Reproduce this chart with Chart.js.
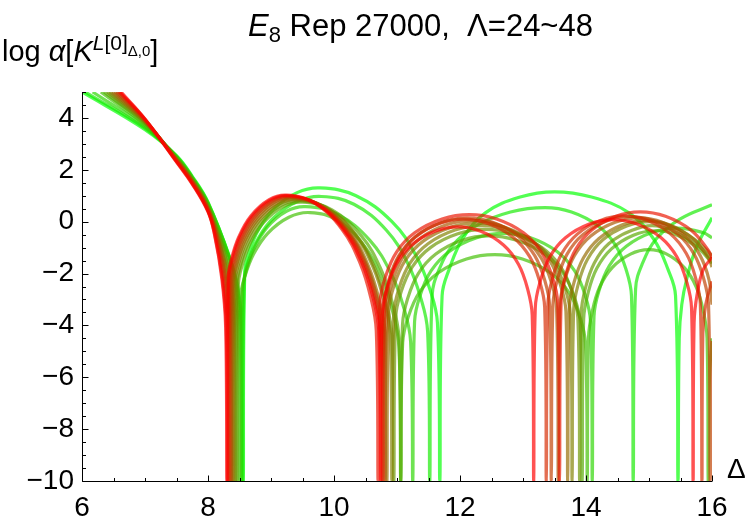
<!DOCTYPE html>
<html><head><meta charset="utf-8">
<script src="https://cdn.jsdelivr.net/npm/chart.js@4.4.1/dist/chart.umd.min.js"></script>
<style>
body{margin:0;background:#fff;}
#wrap{position:relative;width:750px;height:525px;font-family:'Liberation Sans',Arial,sans-serif;color:#000;background:#fff;}
canvas{position:absolute;left:0;top:0;}
.lbl{position:absolute;white-space:nowrap;line-height:1;}
</style></head><body>
<div id="wrap">
<canvas id="chart" width="750" height="525"></canvas>
<div class="lbl" id="title" style="left:248px;top:10px;font-size:31px;"><i>E</i><span style="font-size:22px;position:relative;top:6px;">8</span> Rep 27000,&nbsp; Λ=24~48</div>
<div class="lbl" id="ylab" style="left:2px;top:37px;font-size:29px;">log <i>α</i>[<i>K</i><span style="font-size:21px;position:relative;top:-11px;"><i>L</i>[0]<span style="font-size:15px;position:relative;top:6px;">Δ,0</span></span>]</div>
<div class="lbl" id="xlab" style="left:727px;top:455px;font-size:28px;">Δ</div>
</div>
<script>
// Λ values of the curves (green -> red)
const lambdaValues = [24,26,28,30,32,34,36,38,40,42,44,46,48];
const xTickValues = [6,8,10,12,14,16];
const yTickValues = [-10,-8,-6,-4,-2,0,2,4];

// Each curve: [Δ, log α] pairs (clipped to -10 … 5)
const curveL24 = [[6.00,5],[7,3.55],[7.5,2.55],[7.75,1.75],[8.0,0.75],[8.36,-1.5],[8.48,-2.6],[8.54,-4.05],[8.56,-10],
[8.584,-1.9],[8.658,-1.13],[8.804,-0.3],[9.048,0.5],[9.414,1.12],[9.78,1.30],[10.35,1.0],[10.92,0.0],[11.30,-1.3],[11.528,-2.65],[11.642,-3.9],[11.68,-10],
[11.716,-2.85],[11.826,-1.85],[12.044,-0.65],[12.408,0.35],[12.954,0.95],[13.50,1.15],[14.088,0.95],[14.676,0.35],[15.068,-0.65],[15.303,-1.85],[15.421,-2.85],[15.46,-10],
[15.48,-4.5],[15.52,-3.2],[15.6,-2.2],[15.75,-1.0],[16,0.15]];
const curveL26 = [[6.05,5],[7,3.60],[7.5,2.53],[7.75,1.72],[8.0,0.73],[8.35,-1.42],[8.47,-2.57],[8.53,-4.05],[8.55,-10],
[8.575,-2.23],[8.65,-1.46],[8.80,-0.63],[9.05,0.17],[9.425,0.79],[9.80,0.97],[10.316,0.67],[10.832,-0.33],[11.176,-1.63],[11.382,-2.98],[11.486,-4.23],[11.52,-10],
[11.557,-2.86],[11.666,-1.86],[11.886,-0.91],[12.252,-0.16],[12.801,0.37],[13.35,0.54],[13.77,0.37],[14.19,-0.16],[14.47,-0.91],[14.638,-1.86],[14.722,-2.86],[14.75,-10],
[14.787,-2.6],[14.898,-1.6],[15.12,-0.65],[15.49,0.1],[16,0.65]];
const curveL28 = [[6.17,5],[7,3.66],[7.5,2.50],[7.75,1.70],[8.0,0.70],[8.33,-1.33],[8.45,-2.53],[8.51,-4.05],[8.53,-10],
[8.55,-2.62],[8.612,-1.85],[8.734,-1.02],[8.938,-0.22],[9.244,0.40],[9.55,0.58],[10.06,0.28],[10.57,-0.72],[10.91,-2.02],[11.114,-3.37],[11.216,-4.62],[11.25,-10],
[11.279,-3.85],[11.366,-2.85],[11.54,-1.9],[11.83,-1.15],[12.265,-0.62],[12.70,-0.45],[13.12,-0.62],[13.54,-1.15],[13.82,-1.9],[13.988,-2.85],[14.072,-3.85],[14.10,-10],
[14.127,-3.65],[14.208,-2.65],[14.37,-1.7],[14.64,-0.95],[15.045,-0.42],[15.45,-0.25],[15.855,-0.42],[16,-0.62]];
const curveL30 = [[6.30,5],[7,3.72],[7.5,2.48],[7.75,1.67],[8.0,0.66],[8.30,-1.24],[8.42,-2.5],[8.48,-4.05],[8.50,-10],
[8.522,-2.85],[8.59,-2.08],[8.724,-1.25],[8.948,-0.45],[9.284,0.17],[9.62,0.35],[10.052,0.05],[10.484,-0.95],[10.772,-2.25],[10.945,-3.6],[11.031,-4.85],[11.06,-10],
[11.09,-4.67],[11.179,-3.67],[11.358,-2.72],[11.656,-1.97],[12.103,-1.44],[12.55,-1.27],[12.991,-1.44],[13.432,-1.97],[13.726,-2.72],[13.902,-3.67],[13.991,-4.67],[14.02,-10],
[14.04,-4.48],[14.098,-3.48],[14.216,-2.53],[14.412,-1.78],[14.706,-1.25],[15.0,-1.08],[15.282,-1.25],[15.564,-1.78],[15.752,-2.53],[15.865,-3.48],[15.921,-4.48],[15.94,-10],
[15.96,-6],[16,-4.5]];
const curveL32 = [[6.35,5],[7,3.78],[7.5,2.46],[7.75,1.65],[8.0,0.62],[8.26,-1.15],[8.38,-2.47],[8.44,-4.05],[8.46,-10],
[8.481,-2.45],[8.543,-1.68],[8.668,-0.85],[8.876,-0.05],[9.188,0.57],[9.50,0.75],[9.968,0.45],[10.436,-0.55],[10.748,-1.85],[10.935,-3.2],[11.029,-4.45],[11.06,-10],
[11.088,-3.95],[11.171,-2.95],[11.338,-2.0],[11.616,-1.25],[12.033,-0.72],[12.45,-0.55],[12.897,-0.72],[13.344,-1.25],[13.642,-2.0],[13.821,-2.95],[13.91,-3.95],[13.94,-10],
[13.963,-3.75],[14.033,-2.75],[14.172,-1.8],[14.404,-1.05],[14.752,-0.52],[15.1,-0.35],[15.448,-0.52],[15.796,-1.05],[16,-1.6]];
const curveL34 = [[6.40,5],[7,3.82],[7.5,2.44],[7.75,1.62],[8.0,0.58],[8.24,-1.06],[8.36,-2.43],[8.42,-4.05],[8.44,-10],
[8.46,-2.4],[8.521,-1.63],[8.642,-0.8],[8.844,0.0],[9.147,0.62],[9.45,0.80],[9.90,0.5],[10.35,-0.5],[10.65,-1.8],[10.83,-3.15],[10.92,-4.4],[10.95,-10],
[10.979,-3.7],[11.066,-2.7],[11.24,-1.75],[11.53,-1.0],[11.965,-0.47],[12.40,-0.30],[12.85,-0.47],[13.30,-1.0],[13.60,-1.75],[13.78,-2.7],[13.87,-3.7],[13.90,-10],
[13.923,-3.55],[13.992,-2.55],[14.13,-1.6],[14.36,-0.85],[14.745,-0.32],[15.05,-0.15],[15.355,-0.32],[15.74,-0.85],[16,-1.45]];
const curveL36 = [[6.44,5],[7,3.85],[7.5,2.42],[7.75,1.60],[8.0,0.55],[8.21,-0.97],[8.33,-2.4],[8.39,-4.05],[8.41,-10],
[8.43,-2.35],[8.491,-1.58],[8.612,-0.75],[8.814,0.05],[9.117,0.67],[9.42,0.85],[9.87,0.55],[10.32,-0.45],[10.62,-1.75],[10.80,-3.1],[10.89,-4.35],[10.92,-10],
[10.949,-3.55],[11.034,-2.55],[11.206,-1.6],[11.492,-0.85],[11.921,-0.32],[12.35,-0.15],[12.779,-0.32],[13.208,-0.85],[13.494,-1.6],[13.666,-2.55],[13.751,-3.55],[13.78,-10],
[13.804,-3.4],[13.878,-2.4],[14.024,-1.45],[14.268,-0.7],[14.646,-0.17],[15.0,0.0],[15.354,-0.17],[15.732,-0.7],[16,-1.3]];
const curveL38 = [[6.48,5],[7,3.87],[7.5,2.40],[7.75,1.57],[8.0,0.52],[8.19,-0.88],[8.31,-2.37],[8.37,-4.05],[8.39,-10],
[8.41,-2.32],[8.469,-1.55],[8.588,-0.72],[8.786,0.08],[9.083,0.70],[9.38,0.88],[9.818,0.58],[10.256,-0.42],[10.548,-1.72],[10.723,-3.07],[10.811,-4.32],[10.84,-10],
[10.869,-3.45],[10.955,-2.45],[11.128,-1.5],[11.416,-0.75],[11.848,-0.22],[12.28,-0.05],[12.71,-0.22],[13.138,-0.75],[13.424,-1.5],[13.596,-2.45],[13.681,-3.45],[13.71,-10],
[13.735,-3.35],[13.809,-2.35],[13.958,-1.4],[14.206,-0.65],[14.578,-0.12],[14.95,0.05],[15.322,-0.12],[15.694,-0.65],[15.942,-1.4],[16,-1.75]];
const curveL40 = [[6.52,5],[7,3.90],[7.5,2.38],[7.75,1.55],[8.0,0.49],[8.17,-0.80],[8.29,-2.33],[8.35,-4.05],[8.37,-10],
[8.39,-2.28],[8.448,-1.51],[8.566,-0.68],[8.762,0.12],[9.056,0.74],[9.35,0.92],[9.788,0.62],[10.226,-0.38],[10.518,-1.68],[10.693,-3.03],[10.781,-4.28],[10.81,-10],
[10.838,-3.35],[10.921,-2.35],[11.088,-1.4],[11.366,-0.65],[11.783,-0.12],[12.20,0.05],[12.608,-0.12],[13.016,-0.65],[13.288,-1.4],[13.451,-2.35],[13.533,-3.35],[13.56,-10],
[13.586,-3.25],[13.663,-2.25],[13.818,-1.3],[14.076,-0.55],[14.463,-0.02],[14.85,0.15],[15.21,-0.02],[15.57,-0.55],[15.81,-1.3],[15.954,-2.25],[16,-3.2]];
const curveL42 = [[6.55,5],[7,3.92],[7.5,2.36],[7.75,1.52],[8.0,0.46],[8.15,-0.71],[8.27,-2.3],[8.33,-4.05],[8.35,-10],
[8.369,-2.25],[8.428,-1.48],[8.544,-0.65],[8.738,0.15],[9.029,0.77],[9.32,0.95],[9.752,0.65],[10.184,-0.35],[10.472,-1.65],[10.645,-3.0],[10.731,-4.25],[10.76,-10],
[10.787,-3.25],[10.869,-2.25],[11.032,-1.3],[11.304,-0.55],[11.712,-0.02],[12.12,0.15],[12.519,-0.02],[12.918,-0.55],[13.184,-1.3],[13.344,-2.25],[13.423,-3.25],[13.45,-10],
[13.475,-3.2],[13.55,-2.2],[13.70,-1.25],[13.95,-0.5],[14.325,0.03],[14.70,0.20],[15.081,0.03],[15.462,-0.5],[15.716,-1.25],[15.868,-2.2],[15.945,-3.2],[15.97,-10],[16,-4.6]];
const curveL44 = [[6.58,5],[7,3.94],[7.5,2.34],[7.75,1.50],[8.0,0.43],[8.13,-0.62],[8.25,-2.27],[8.31,-4.05],[8.33,-10],
[8.349,-2.22],[8.408,-1.45],[8.524,-0.62],[8.718,0.18],[9.009,0.80],[9.30,0.98],[9.744,0.68],[10.188,-0.32],[10.484,-1.62],[10.662,-2.97],[10.75,-4.22],[10.78,-10],
[10.805,-3.3],[10.882,-2.3],[11.034,-1.35],[11.288,-0.6],[11.669,-0.07],[12.05,0.10],[12.446,-0.07],[12.842,-0.6],[13.106,-1.35],[13.264,-2.3],[13.344,-3.3],[13.37,-10],
[13.395,-3.18],[13.468,-2.18],[13.616,-1.23],[13.862,-0.48],[14.231,0.05],[14.60,0.22],[14.972,0.05],[15.344,-0.48],[15.592,-1.23],[15.741,-2.18],[15.815,-3.18],[15.84,-10],
[15.855,-4.3],[15.9,-3.2],[16,-2.3]];
const curveL46 = [[6.60,5],[7,3.95],[7.5,2.32],[7.75,1.47],[8.0,0.41],[8.11,-0.54],[8.23,-2.23],[8.29,-4.05],[8.31,-10],
[8.329,-2.2],[8.387,-1.43],[8.502,-0.6],[8.694,0.2],[8.982,0.82],[9.27,1.00],[9.699,0.7],[10.128,-0.3],[10.414,-1.6],[10.586,-2.95],[10.671,-4.2],[10.70,-10],
[10.729,-3.13],[10.816,-2.13],[10.99,-1.18],[11.28,-0.43],[11.715,0.10],[12.15,0.27],[12.58,0.10],[13.008,-0.43],[13.294,-1.18],[13.466,-2.13],[13.551,-3.13],[13.58,-10],
[13.606,-3.02],[13.682,-2.02],[13.836,-1.07],[14.092,-0.32],[14.476,0.21],[14.86,0.38],[15.262,0.21],[15.664,-0.32],[15.932,-1.07],[16,-1.4]];
const curveL48 = [[6.62,5],[7,3.96],[7.5,2.30],[7.75,1.45],[8.0,0.38],[8.10,-0.45],[8.22,-2.2],[8.28,-4.05],[8.30,-10],
[8.319,-2.18],[8.376,-1.41],[8.49,-0.58],[8.68,0.22],[8.965,0.84],[9.25,1.02],[9.697,0.72],[10.144,-0.28],[10.442,-1.58],[10.621,-2.93],[10.71,-4.18],[10.74,-10],
[10.765,-3.6],[10.838,-2.6],[10.986,-1.65],[11.232,-0.9],[11.601,-0.37],[11.97,-0.2],[12.33,-0.37],[12.69,-0.9],[12.93,-1.65],[13.074,-2.6],[13.146,-3.6],[13.17,-10],
[13.195,-3.32],[13.271,-2.32],[13.422,-1.37],[13.674,-0.62],[14.052,-0.09],[14.43,0.08],[14.811,-0.09],[15.192,-0.62],[15.446,-1.37],[15.598,-2.32],[15.675,-3.32],[15.70,-10],
[15.716,-3.9],[15.764,-2.8],[15.86,-1.85],[16,-1.38]];

const curves = [curveL24,curveL26,curveL28,curveL30,curveL32,curveL34,curveL36,curveL38,curveL40,curveL42,curveL44,curveL46,curveL48];

const FONT = "'Liberation Sans', Arial, sans-serif";
Chart.defaults.font.family = FONT;
Chart.defaults.color = '#000';

const datasets = curves.map((pts, i) => {
  const s = i / (curves.length - 1);
  return {
    label: '\u039B=' + lambdaValues[i],
    data: pts.map(p => ({x: p[0], y: p[1]})),
    showLine: true,
    pointRadius: 0,
    borderWidth: 3.2,
    borderColor: `rgba(${Math.round(255*s)},${Math.round(255*(1-s))},0,0.68)`,
    tension: 0.4,
    borderJoinStyle: 'round',
    fill: false,
    order: curves.length - 1 - i
  };
});

const fmt = v => (v < 0 ? '\u2212' + Math.abs(v) : String(v));

const axisTicks = {
  id: 'axisTicks',
  afterDraw(chart) {
    const {ctx, chartArea: a, scales: {x, y}} = chart;
    ctx.save();
    ctx.strokeStyle = '#000';
    ctx.lineWidth = 1;
    ctx.beginPath();
    ctx.moveTo(a.left + 0.5, a.top);
    ctx.lineTo(a.left + 0.5, a.bottom + 0.5);
    ctx.lineTo(a.right, a.bottom + 0.5);
    ctx.stroke();
    ctx.beginPath();
    for (let v = x.min; v <= x.max + 1e-9; v += 0.5) {
      const px = Math.round(x.getPixelForValue(v)) + 0.5;
      const len = (Math.abs(v % 2) < 1e-9) ? 6 : 3.5;
      ctx.moveTo(px, a.bottom + 0.5);
      ctx.lineTo(px, a.bottom + 0.5 - len);
    }
    for (let v = y.min; v <= y.max + 1e-9; v += 0.5) {
      const py = Math.round(y.getPixelForValue(v)) + 0.5;
      const len = (Math.abs(v % 2) < 1e-9) ? 6 : 3.5;
      ctx.moveTo(a.left + 0.5, py);
      ctx.lineTo(a.left + 0.5 + len, py);
    }
    ctx.stroke();
    ctx.restore();
  }
};

new Chart(document.getElementById('chart'), {
  type: 'scatter',
  data: { datasets },
  options: {
    responsive: false,
    animation: false,
    events: [],
    layout: { padding: { left: 0, right: 38, top: 92, bottom: 0 } },
    plugins: { legend: { display: false }, tooltip: { enabled: false }, title: { display: false } },
    scales: {
      x: {
        type: 'linear', min: 6, max: 16,
        afterFit(s) { s.height = 44; },
        border: { display: false },
        grid: { display: false, drawTicks: false, tickLength: 0 },
        afterBuildTicks(s) { s.ticks = xTickValues.map(v => ({value: v})); },
        ticks: { stepSize: 2, padding: 10, font: { size: 28, family: FONT }, color: '#000', maxRotation: 0, callback: fmt }
      },
      y: {
        type: 'linear', min: -10, max: 5,
        afterFit(s) { s.width = 82; },
        border: { display: false },
        grid: { display: false, drawTicks: false, tickLength: 0 },
        afterBuildTicks(s) { s.ticks = yTickValues.map(v => ({value: v})); },
        ticks: { stepSize: 2, includeBounds: false, padding: 8, font: { size: 28, family: FONT }, color: '#000', callback: fmt }
      }
    }
  },
  plugins: [axisTicks]
});
</script>
</body></html>
